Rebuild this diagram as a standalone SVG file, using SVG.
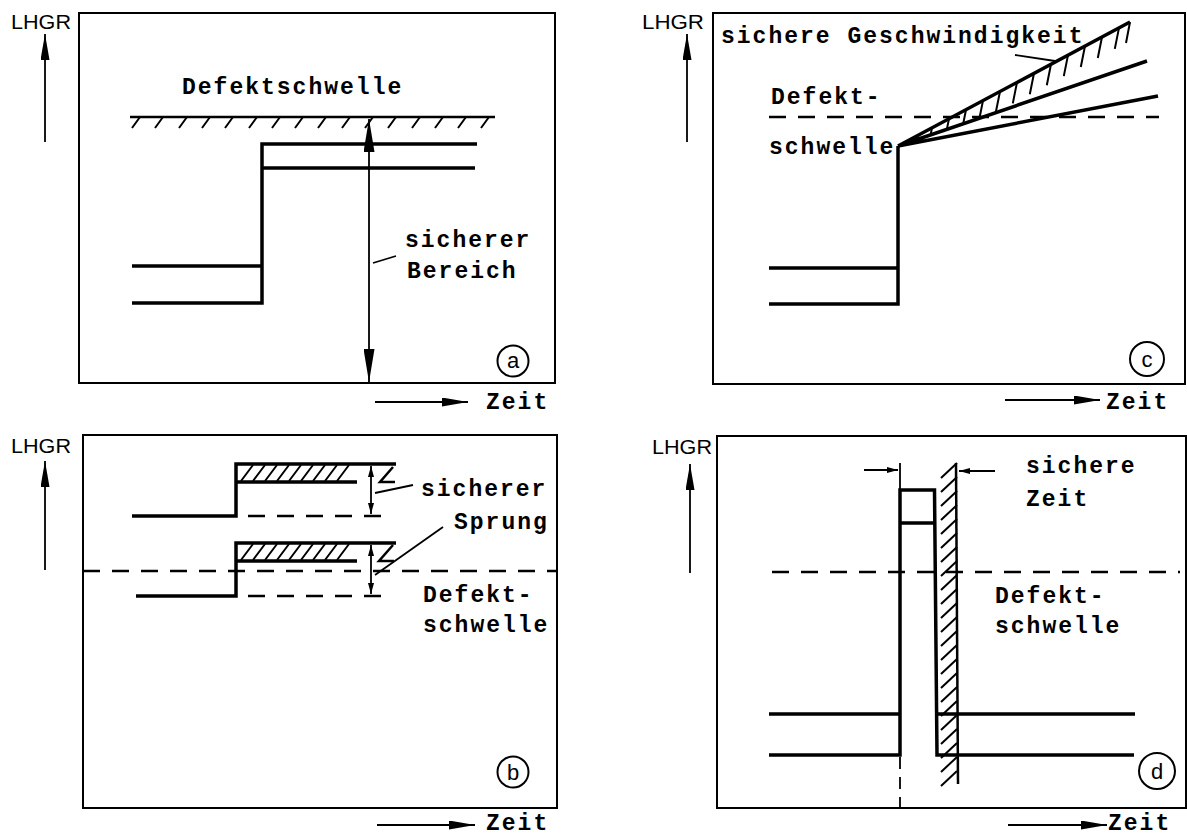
<svg xmlns="http://www.w3.org/2000/svg" width="1187" height="837" viewBox="0 0 1187 837">
<style>
.frame{fill:none;stroke:#000;stroke-width:2}
.thick{fill:none;stroke:#000;stroke-width:3.5;stroke-linejoin:miter}
.med{fill:none;stroke:#000;stroke-width:2.5}
.thin{fill:none;stroke:#000;stroke-width:1.8}
.dash{fill:none;stroke:#000;stroke-width:2.5;stroke-dasharray:17 12}
.hatch{fill:none;stroke:#000;stroke-width:2}
.lbl{font-family:"Liberation Mono","DejaVu Sans Mono",monospace;font-weight:bold;font-size:23px;letter-spacing:2px;fill:#000}
.ax{font-family:"Liberation Sans","DejaVu Sans",sans-serif;font-size:21px;fill:#000}
.circ{fill:none;stroke:#000;stroke-width:2}
.cl{font-family:"Liberation Sans","DejaVu Sans",sans-serif;font-size:22px;fill:#000;text-anchor:middle}
</style>
<defs>
<marker id="ah" markerUnits="userSpaceOnUse" markerWidth="26" markerHeight="9" refX="26" refY="4.5" orient="auto-start-reverse"><path d="M0,0 L26,4.5 L0,9 z" fill="#000"/></marker>
<marker id="ahl" markerUnits="userSpaceOnUse" markerWidth="33" markerHeight="11" refX="33" refY="5.5" orient="auto-start-reverse"><path d="M0,0 L33,5.5 L0,11 z" fill="#000"/></marker>
<marker id="ahs" markerUnits="userSpaceOnUse" markerWidth="11" markerHeight="6" refX="11" refY="3" orient="auto-start-reverse"><path d="M0,0 L11,3 L0,6 z" fill="#000"/></marker>
</defs>

<g id="panel-a">
  <rect class="frame" x="79" y="13" width="476" height="370"/>
  <text class="ax" x="11" y="29" textLength="60" lengthAdjust="spacingAndGlyphs">LHGR</text>
  <line class="thin" x1="45" y1="142" x2="45" y2="34" marker-end="url(#ah)"/>
  <text class="lbl" x="182" y="94">Defektschwelle</text>
  <path class="med" d="M130,117 H495"/>
  <path class="hatch" d="M140,117 l-8,11 M163,117 l-8,11 M187,117 l-8,11 M210,117 l-8,11 M233,117 l-8,11 M257,117 l-8,11 M280,117 l-8,11 M303,117 l-8,11 M326,117 l-8,11 M350,117 l-8,11 M373,117 l-8,11 M396,117 l-8,11 M420,117 l-8,11 M443,117 l-8,11 M466,117 l-8,11 M489,117 l-8,11"/>
  <path class="thick" d="M132,266 H262 M132,303 H262 V144 H477 M262,168 H475"/>
  <line class="thin" x1="369" y1="119" x2="369" y2="382" marker-start="url(#ahl)" marker-end="url(#ahl)"/>
  <line class="thin" x1="373" y1="263" x2="396" y2="256"/>
  <text class="lbl" x="405" y="247">sicherer</text>
  <text class="lbl" x="407" y="278">Bereich</text>
  <circle class="circ" cx="513" cy="361" r="15.5"/>
  <text class="cl" x="513" y="368">a</text>
  <line class="thin" x1="375" y1="402" x2="468" y2="402" marker-end="url(#ah)"/>
  <text class="lbl" x="486" y="409">Zeit</text>
</g>

<g id="panel-b">
  <rect class="frame" x="83" y="435" width="474" height="373"/>
  <text class="ax" x="11" y="453" textLength="60" lengthAdjust="spacingAndGlyphs">LHGR</text>
  <line class="thin" x1="45" y1="570" x2="45" y2="461" marker-end="url(#ah)"/>
  <path class="dash" d="M83,571 H557"/>
  <path class="thick" d="M132,516 H236 V464 H396 M236,482 H357"/>
  <path class="dash" d="M248,516 H393"/>
  <path class="hatch" d="M241,481 l12,-16 M253,481 l12,-16 M265,481 l12,-16 M277,481 l12,-16 M289,481 l12,-16 M301,481 l12,-16 M313,481 l12,-16 M325,481 l12,-16 M337,481 l12,-16"/>
  <path class="med" d="M393,467 L380,482 H395"/>
  <line class="thin" x1="371" y1="466" x2="371" y2="514" marker-start="url(#ahs)" marker-end="url(#ahs)"/>
  <path class="thick" d="M136,596 H236 V543 H396 M236,561 H357"/>
  <path class="dash" d="M248,596 H393"/>
  <path class="hatch" d="M241,560 l12,-16 M253,560 l12,-16 M265,560 l12,-16 M277,560 l12,-16 M289,560 l12,-16 M301,560 l12,-16 M313,560 l12,-16 M325,560 l12,-16 M337,560 l12,-16"/>
  <path class="med" d="M393,545 L379,561 H394"/>
  <line class="thin" x1="371" y1="545" x2="371" y2="594" marker-start="url(#ahs)" marker-end="url(#ahs)"/>
  <line class="thin" x1="375" y1="493" x2="413" y2="485"/>
  <line class="thin" x1="375" y1="575" x2="443" y2="527"/>
  <text class="lbl" x="421" y="496">sicherer</text>
  <text class="lbl" x="454" y="529">Sprung</text>
  <text class="lbl" x="423" y="602">Defekt-</text>
  <text class="lbl" x="423" y="632">schwelle</text>
  <circle class="circ" cx="513" cy="772" r="15.5"/>
  <text class="cl" x="513" y="780">b</text>
  <line class="thin" x1="377" y1="825" x2="475" y2="825" marker-end="url(#ah)"/>
  <text class="lbl" x="486" y="830">Zeit</text>
</g>

<g id="panel-c">
  <rect class="frame" x="713" y="13" width="472" height="371"/>
  <text class="ax" x="642" y="29" textLength="62" lengthAdjust="spacingAndGlyphs">LHGR</text>
  <line class="thin" x1="687" y1="142" x2="687" y2="34" marker-end="url(#ah)"/>
  <text class="lbl" x="721" y="43">sichere Geschwindigkeit</text>
  <text class="lbl" x="771" y="104">Defekt-</text>
  <text class="lbl" x="769" y="154">schwelle</text>
  <path class="dash" d="M769,117 H1159"/>
  <path class="thick" d="M769,268 H898 M769,304 H898 V146 M898,146 L1130,22 M898,146 L1147,61 M898,146 L1158,96"/>
  <path class="hatch" d="M915,136.9 L914.3,140.2 M932,127.8 L930.7,134.4 M949,118.7 L947,128.6 M966,109.7 L963.4,122.8 M983,100.6 L979.7,117 M1000,91.5 L996,111.2 M1017,82.4 L1012.8,103.4 M1034,73.3 L1029.8,94.3 M1051,64.2 L1046.8,85.2 M1068,55.1 L1063.8,76.1 M1085,46 L1080.8,67 M1102,37 L1097.8,58 M1119,27.9 L1114.8,48.9 M1130,22 L1126,43"/>
  <line class="thin" x1="1015" y1="55" x2="1055" y2="61"/>
  <circle class="circ" cx="1147" cy="359" r="17"/>
  <text class="cl" x="1147" y="367">c</text>
  <line class="thin" x1="1005" y1="400" x2="1100" y2="400" marker-end="url(#ah)"/>
  <text class="lbl" x="1106" y="409">Zeit</text>
</g>

<g id="panel-d">
  <rect class="frame" x="717" y="436" width="469" height="372"/>
  <text class="ax" x="652" y="454" textLength="60" lengthAdjust="spacingAndGlyphs">LHGR</text>
  <line class="thin" x1="690" y1="573" x2="690" y2="464" marker-end="url(#ah)"/>
  <path class="dash" d="M772,572 H1180"/>
  <path class="thick" d="M769,755 H900 V490 H934.5 L937,755 H1134 M900,523 H934 M769,714 H900 M937,714 H1135"/>
  <path class="thin" d="M900,757 V808" stroke-dasharray="12 8"/>
  <line class="thin" x1="900" y1="463" x2="900" y2="490"/>
  <line class="med" x1="956" y1="463" x2="958" y2="784"/>
  <path class="hatch" d="M941,478 l16,-15 M941,492 l16,-15 M941,506 l16,-15 M941,520 l16,-15 M941,534 l16,-15 M941,548 l16,-15 M941,562 l16,-15 M941,576 l16,-15 M941,590 l16,-15 M941,604 l16,-15 M941,618 l16,-15 M941,632 l16,-15 M941,646 l16,-15 M941,660 l16,-15 M941,674 l16,-15 M941,688 l16,-15 M941,702 l16,-15 M941,716 l16,-15 M941,730 l16,-15 M941,744 l16,-15 M941,758 l16,-15 M941,772 l16,-15 M941,786 l16,-15"/>
  <line class="thin" x1="864" y1="470" x2="898" y2="470" marker-end="url(#ahs)"/>
  <line class="thin" x1="995" y1="471" x2="959" y2="471" marker-end="url(#ahs)"/>
  <text class="lbl" x="1026" y="473">sichere</text>
  <text class="lbl" x="1026" y="506">Zeit</text>
  <text class="lbl" x="995" y="603">Defekt-</text>
  <text class="lbl" x="995" y="633">schwelle</text>
  <circle class="circ" cx="1157" cy="771" r="18"/>
  <text class="cl" x="1157" y="779">d</text>
  <line class="thin" x1="1008" y1="825" x2="1107" y2="825" marker-end="url(#ah)"/>
  <text class="lbl" x="1108" y="830">Zeit</text>
</g>
</svg>
